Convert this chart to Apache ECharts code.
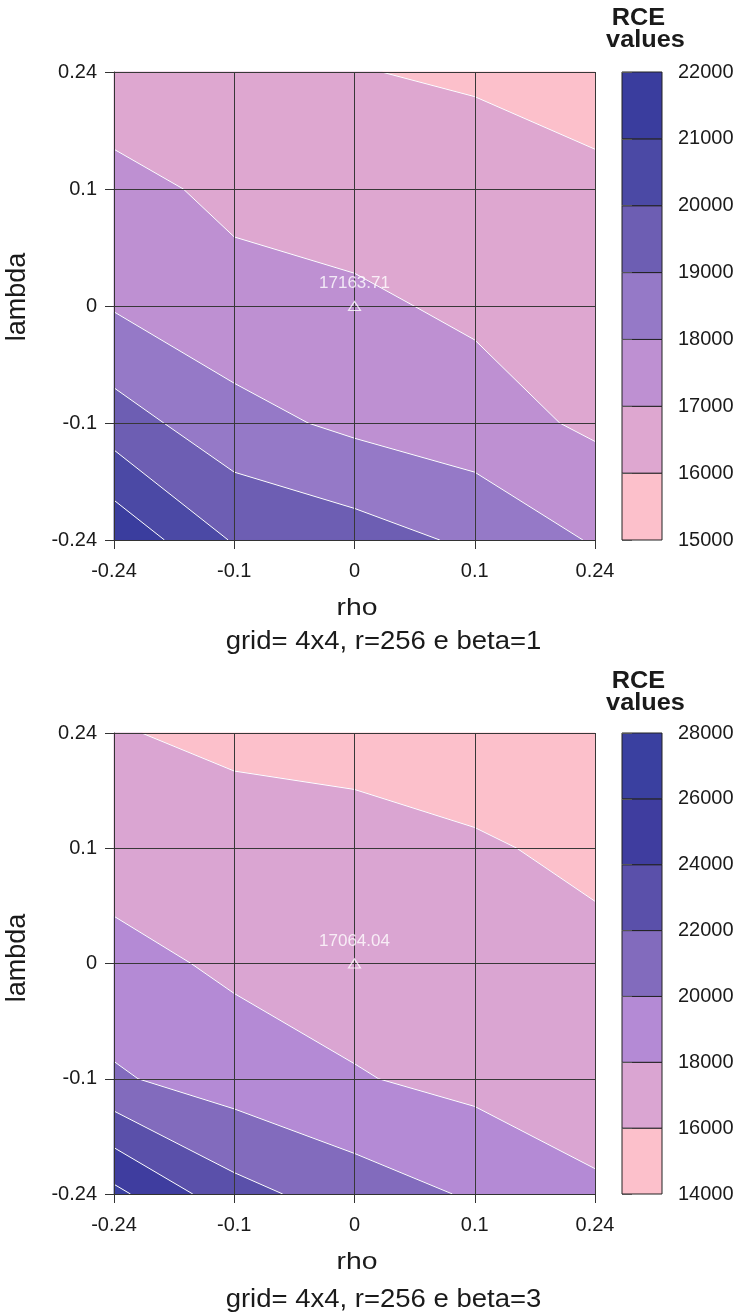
<!DOCTYPE html>
<html>
<head>
<meta charset="utf-8">
<script src="https://cdn.jsdelivr.net/npm/echarts@6/dist/echarts.min.js"></script>
<style>
html,body{margin:0;padding:0;background:#fff;}
#chart{width:743px;height:1312px;}
</style>
</head>
<body>
<div id="chart"></div>
<script>
// ---- data ----
const rhoLabels = ['-0.24', '-0.1', '0', '0.1', '0.24'];
const lambdaLabels = ['-0.24', '-0.1', '0', '0.1', '0.24'];
// RCE values on the 5x5 grid; rows = lambda (bottom -> top), cols = rho (left -> right)
const rceBeta1 = [
  [21792, 19905, 19450, 18816, 17909],
  [19463, 18345, 17783, 17409, 16830],
  [17923, 17330, 17163.71, 16833, 16600],
  [17312, 16771, 16579, 16450, 16250],
  [16394, 16200, 16035, 15880, 15515]
];
const rceBeta3 = [
  [26530, 22670, 21010, 19771, 18282],
  [20236, 19055, 18140, 17440, 17000],
  [18663, 17629, 17064.04, 16800, 16543],
  [17046, 16700, 16500, 16250, 15537],
  [16103, 15655, 15520, 14861, 14700]
];
const levelsBeta1 = [15000, 16000, 17000, 18000, 19000, 20000, 21000, 22000];
const levelsBeta3 = [14000, 16000, 18000, 20000, 22000, 24000, 26000, 28000];
const markBeta1 = [2, 2, 17163.71];
const markBeta3 = [2, 2, 17064.04];
const subtitles = ['grid= 4x4, r=256 e beta=1', 'grid= 4x4, r=256 e beta=3'];
const xTitle = 'rho';
const yTitle = 'lambda';
const legendTitle = ['RCE', 'values'];

// ---- styles ----
const paletteBeta1 = ['#FCC0CB', '#DEA7D0', '#BE90D2', '#9579C7', '#6D5EB3', '#4B49A5', '#3A3D9E'];
const paletteBeta3 = ['#FCC0CB', '#DAA5D2', '#B48AD5', '#826BBD', '#5A50AA', '#3F3D9F', '#3A40A0'];
const FONT = 'Liberation Sans, Arial, sans-serif';
const TXT = '#1a1a1a';

function makeCells(z) {
  const out = [];
  for (let j = 0; j < z.length - 1; j++)
    for (let i = 0; i < z[0].length - 1; i++)
      out.push([i, j, z[j][i], z[j][i + 1], z[j + 1][i + 1], z[j + 1][i]]);
  return out;
}
function clip(poly, L, above) {
  const out = [];
  const ins = p => above ? p.z >= L : p.z <= L;
  for (let k = 0; k < poly.length; k++) {
    const a = poly[k], b = poly[(k + 1) % poly.length];
    const ia = ins(a), ib = ins(b);
    if (ia) out.push(a);
    if (ia !== ib) {
      const t = (L - a.z) / (b.z - a.z);
      out.push({ u: a.u + t * (b.u - a.u), v: a.v + t * (b.v - a.v), z: L });
    }
  }
  return out;
}
function cellPts(api) {
  const i = api.value(0), j = api.value(1);
  return [
    { u: i, v: j, z: api.value(2) },
    { u: i + 1, v: j, z: api.value(3) },
    { u: i + 1, v: j + 1, z: api.value(4) },
    { u: i, v: j + 1, z: api.value(5) }
  ];
}
function fillRenderer(levels, colors) {
  return function (params, api) {
    const pts = cellPts(api);
    const children = [];
    for (let k = 0; k < levels.length - 1; k++) {
      const poly = clip(clip(pts, levels[k], true), levels[k + 1], false);
      if (poly.length >= 3) {
        children.push({
          type: 'polygon',
          shape: { points: poly.map(p => api.coord([p.u, p.v])) },
          style: { fill: colors[k], stroke: colors[k], lineWidth: 0.8 }
        });
      }
    }
    return { type: 'group', children };
  };
}
function lineRenderer(levels) {
  return function (params, api) {
    const pts = cellPts(api);
    const children = [];
    for (let k = 1; k < levels.length - 1; k++) {
      const L = levels[k];
      const cross = [];
      for (let e = 0; e < 4; e++) {
        const a = pts[e], b = pts[(e + 1) % 4];
        if ((a.z - L) * (b.z - L) < 0) {
          const t = (L - a.z) / (b.z - a.z);
          cross.push(api.coord([a.u + t * (b.u - a.u), a.v + t * (b.v - a.v)]));
        }
      }
      for (let m = 0; m + 1 < cross.length; m += 2) {
        children.push({
          type: 'polyline',
          shape: { points: [cross[m], cross[m + 1]] },
          style: { stroke: '#ffffff', lineWidth: 1, fill: null }
        });
      }
    }
    return { type: 'group', children };
  };
}
function bandData(levels) {
  const out = [];
  for (let k = 0; k < levels.length - 1; k++) out.push([levels[k], levels[k + 1], k]);
  return out;
}
function barRenderer(colors) {
  return function (params, api) {
    const p1 = api.coord([0, api.value(0)]);
    const p2 = api.coord([1, api.value(1)]);
    return {
      type: 'rect',
      shape: { x: p1[0], y: p2[1], width: p2[0] - p1[0], height: p1[1] - p2[1] },
      style: { fill: colors[api.value(2)], stroke: '#222', lineWidth: 1 }
    };
  };
}

const plotGrids = [
  { left: 114, top: 72, width: 481, height: 468 },
  { left: 114, top: 733, width: 481, height: 461 }
];
const barGrids = [
  { left: 622, top: 72, width: 40, height: 468 },
  { left: 622, top: 733, width: 40, height: 461 }
];
const grid = plotGrids.concat(barGrids);

function plotX(gi) {
  return {
    gridIndex: gi, type: 'value', min: 0, max: 4, interval: 1, z: 10,
    axisLine: { show: true, onZero: false, lineStyle: { color: '#333', width: 1 } },
    axisTick: { show: true, length: 9, lineStyle: { color: '#333' } },
    axisLabel: { formatter: v => rhoLabels[v], fontSize: 20, color: TXT, margin: 21, fontFamily: FONT },
    splitLine: { show: true, lineStyle: { color: '#383838', width: 1 } }
  };
}
function plotY(gi) {
  return {
    gridIndex: gi, type: 'value', min: 0, max: 4, interval: 1, z: 10,
    axisLine: { show: true, onZero: false, lineStyle: { color: '#333', width: 1 } },
    axisTick: { show: true, length: 9, lineStyle: { color: '#333' } },
    axisLabel: { formatter: v => lambdaLabels[v], fontSize: 20, color: TXT, margin: 17, fontFamily: FONT },
    splitLine: { show: true, lineStyle: { color: '#383838', width: 1 } }
  };
}
function barX(gi) {
  return { gridIndex: gi, type: 'value', min: 0, max: 1, show: false,
    axisLine: { show: false }, axisTick: { show: false }, axisLabel: { show: false }, splitLine: { show: false } };
}
function barY(gi, levels) {
  return {
    gridIndex: gi, type: 'value', position: 'right', z: 10,
    min: levels[0], max: levels[levels.length - 1], interval: levels[1] - levels[0],
    axisLine: { show: false },
    axisTick: { show: true, length: 10, lineStyle: { color: '#555' } },
    axisLabel: { fontSize: 20, color: TXT, margin: 16, fontFamily: FONT, formatter: v => String(v) },
    splitLine: { show: false }
  };
}

function markSeries(xi, mark) {
  return {
    type: 'scatter', xAxisIndex: xi, yAxisIndex: xi, z: 20,
    data: [mark], symbol: 'triangle', symbolSize: [12, 9],
    itemStyle: { color: 'rgba(0,0,0,0)', borderColor: '#ffffff', borderWidth: 1.2 },
    label: {
      show: true, position: 'top', distance: 9, color: '#ffffff', fontSize: 17, fontFamily: FONT,
      formatter: p => p.value[2].toFixed(2)
    },
    silent: true
  };
}

function txt(x, y, text, size, sx, extra) {
  return {
    type: 'text', x: x, y: y, scaleX: sx, z: 50,
    style: Object.assign({ text: text, fontSize: size, fill: TXT, fontFamily: FONT, align: 'center', verticalAlign: 'middle' }, extra || {})
  };
}

const option = {
  animation: false,
  backgroundColor: '#ffffff',
  grid: grid,
  xAxis: [plotX(0), plotX(1), barX(2), barX(3)],
  yAxis: [plotY(0), plotY(1), barY(2, levelsBeta1), barY(3, levelsBeta3)],
  series: [
    { type: 'custom', xAxisIndex: 0, yAxisIndex: 0, z: 2, data: makeCells(rceBeta1),
      encode: { x: 0, y: 1 }, renderItem: fillRenderer(levelsBeta1, paletteBeta1), silent: true },
    { type: 'custom', xAxisIndex: 0, yAxisIndex: 0, z: 3, data: makeCells(rceBeta1),
      encode: { x: 0, y: 1 }, renderItem: lineRenderer(levelsBeta1), silent: true },
    markSeries(0, markBeta1),
    { type: 'custom', xAxisIndex: 1, yAxisIndex: 1, z: 2, data: makeCells(rceBeta3),
      encode: { x: 0, y: 1 }, renderItem: fillRenderer(levelsBeta3, paletteBeta3), silent: true },
    { type: 'custom', xAxisIndex: 1, yAxisIndex: 1, z: 3, data: makeCells(rceBeta3),
      encode: { x: 0, y: 1 }, renderItem: lineRenderer(levelsBeta3), silent: true },
    markSeries(1, markBeta3),
    { type: 'custom', xAxisIndex: 2, yAxisIndex: 2, z: 2, data: bandData(levelsBeta1),
      encode: { y: [0, 1] }, renderItem: barRenderer(paletteBeta1), silent: true },
    { type: 'custom', xAxisIndex: 3, yAxisIndex: 3, z: 2, data: bandData(levelsBeta3),
      encode: { y: [0, 1] }, renderItem: barRenderer(paletteBeta3), silent: true }
  ],
  graphic: [
    txt(357, 608, xTitle, 24, 1.18),
    txt(357, 1262, xTitle, 24, 1.18),
    Object.assign(txt(18, 297, yTitle, 27, 1), { rotation: Math.PI / 2 }),
    Object.assign(txt(18, 958, yTitle, 27, 1), { rotation: Math.PI / 2 }),
    txt(383.5, 642, subtitles[0], 25, 1.1),
    txt(383.5, 1300, subtitles[1], 25, 1.1),
    txt(638.5, 18.5, legendTitle[0], 23, 1.1, { fontWeight: 'bold' }),
    txt(645.5, 41, legendTitle[1], 23, 1.1, { fontWeight: 'bold' }),
    txt(638.5, 681.5, legendTitle[0], 23, 1.1, { fontWeight: 'bold' }),
    txt(645.5, 703.5, legendTitle[1], 23, 1.1, { fontWeight: 'bold' })
  ]
};

const chart = echarts.init(document.getElementById('chart'), null, { renderer: 'canvas', width: 743, height: 1312 });
chart.setOption(option);
</script>
</body>
</html>
